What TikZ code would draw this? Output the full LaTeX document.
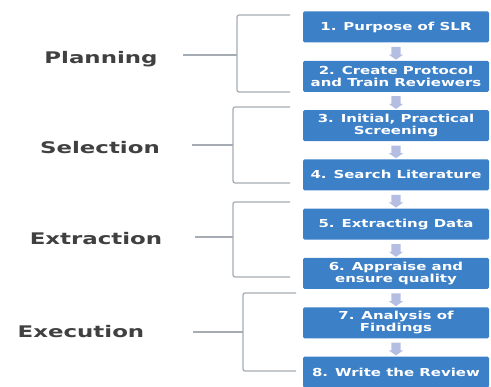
\documentclass[tikz,border=0pt]{standalone}
\usepackage{fontspec}
\usetikzlibrary{calc,shapes.arrows}
\newfontfamily\boxfont{DejaVu Sans}[FakeStretch=1.36]
\newfontfamily\labelfont{DejaVu Sans}[FakeStretch=1.43]
\definecolor{stepblue}{RGB}{60,128,200}
\definecolor{bracegray}{RGB}{165,172,180}
\definecolor{arrowblue}{RGB}{180,190,226}
\definecolor{labelgray}{RGB}{64,64,64}

\begin{document}
\begin{tikzpicture}[x=1pt,y=-1pt]
	\path [use as bounding box] (0,0) rectangle (491,387);
	\tikzstyle{stepbox} = [rectangle, rounded corners=1.5pt, fill=stepblue, text=white, minimum width=186pt, minimum height=31pt, inner sep=1pt, align=center, font=\boxfont\bfseries\fontsize{11}{12}\selectfont]
	\tikzstyle{downarrow} = [single arrow, fill=arrowblue, shape border rotate=270, inner sep=4.5pt, minimum height=12pt, single arrow head extend=2.5pt, single arrow tip angle=110]
	\tikzstyle{phase} = [text=labelgray, font=\labelfont\bfseries\fontsize{16}{18}\selectfont]
	\tikzstyle{brace} = [draw=bracegray, line width=1.2pt, rounded corners=2pt]
	% steps
	\node[stepbox] (b1) at (396,27.0) {1. Purpose of SLR};
	\node[stepbox] (b2) at (396,76.3) {2. Create Protocol\\and Train Reviewers};
	\node[stepbox] (b3) at (396,125.6) {3. Initial, Practical\\Screening};
	\node[stepbox] (b4) at (396,174.9) {4. Search Literature};
	\node[stepbox] (b5) at (396,224.2) {5. Extracting Data};
	\node[stepbox] (b6) at (396,273.5) {6. Appraise and\\ensure quality};
	\node[stepbox] (b7) at (396,322.8) {7. Analysis of\\Findings};
	\node[stepbox] (b8) at (396,372.1) {8. Write the Review};
	\foreach \i/\j in {1/2,2/3,3/4,4/5,5/6,6/7,7/8}
		\node[downarrow] (a\i) at ($(b\i.south)!0.5!(b\j.north)$) {};
	% phases
	\node[phase] (planning) at (101,59) {Planning};
	\node[phase] (selection) at (100,148) {Selection};
	\node[phase] (extraction) at (96,239) {Extraction};
	\node[phase] (execution) at (81,332) {Execution};
	% braces
	\foreach \t/\m/\b/\x/\s/\e in {15/55/92/237/183/290, 107/145/183/233/192/290, 202/237/277/233/195/290, 293/332/371/243/193/296} {
		\path[brace] (\e,\t) -- (\x,\t) -- (\x,\b) -- (\e,\b);
		\draw[bracegray, line width=1.2pt] (\x,\m) -- (\s,\m);
	}
\end{tikzpicture}
\end{document}
